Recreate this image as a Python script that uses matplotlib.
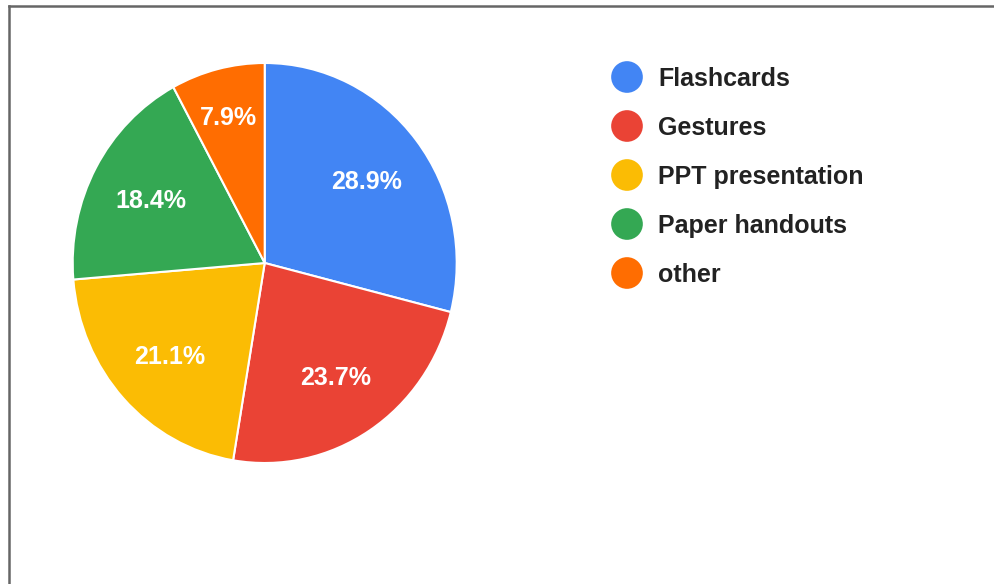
import matplotlib
matplotlib.use('Agg')
import matplotlib.pyplot as plt
import numpy as np
from matplotlib.lines import Line2D

plt.rcParams['font.family'] = ['Liberation Sans', 'DejaVu Sans']

# survey responses
categories = ['Flashcards', 'Gestures', 'PPT presentation', 'Paper handouts', 'other']
counts = [11, 9, 8, 7, 3]
colors = ['#4285F4', '#EA4335', '#FBBC04', '#34A853', '#FF6D01']

W, H = 995, 584
fig = plt.figure(figsize=(W/100., H/100.), dpi=100)

# pie area in pixels: centre (265,263), rx 192, ry 200
cx, cy, rx, ry = 264.7, 263, 192, 200
ax = fig.add_axes([(cx-rx)/W, (H-cy-ry)/H, 2*rx/W, 2*ry/H])
wedges, _ = ax.pie(counts, colors=colors, startangle=90, counterclock=False,
                   radius=1.0, wedgeprops=dict(edgecolor='white', linewidth=1.5))
ax.set_aspect('auto')
ax.set_xlim(-1, 1); ax.set_ylim(-1, 1)
ax.axis('off')

# percentage labels, small slices pushed outwards
total = float(sum(counts))
for w, c in zip(wedges, counts):
    frac = c/total
    ang = np.deg2rad((w.theta1 + w.theta2)/2.)
    d = 0.675 if frac > 0.1 else 0.76
    ax.text(d*np.cos(ang), d*np.sin(ang) - 0.012, '%.1f%%' % (100*frac),
            ha='center', va='center', color='white', fontsize=18, fontweight='bold')

# overlay axes in pixel coordinates for legend and frame
ov = fig.add_axes([0, 0, 1, 1])
ov.set_xlim(0, W); ov.set_ylim(H, 0)
ov.axis('off')
for i, (lab, col) in enumerate(zip(categories, colors)):
    y = 77 + 49*i
    ov.scatter([627], [y], s=520, color=col, edgecolors='none')
    ov.text(658, y + 2, lab, ha='left', va='center', fontsize=18, fontweight='bold', color='#222222')

ov.add_line(Line2D([8.5, W], [6, 6], color='#666666', linewidth=1.8))
ov.add_line(Line2D([8.5, 8.5], [6, H], color='#666666', linewidth=1.8))

fig.savefig('out.png', dpi=100, facecolor='white')
